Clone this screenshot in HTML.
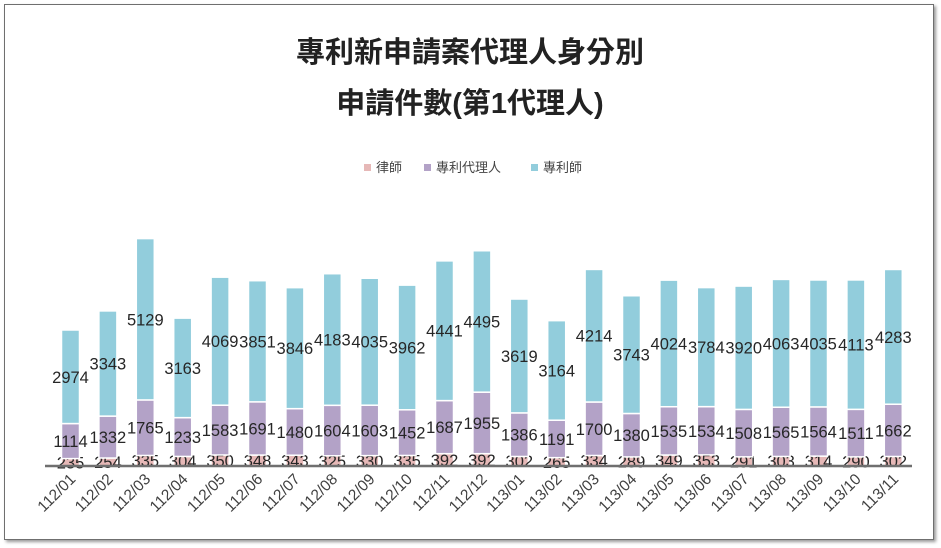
<!DOCTYPE html>
<html><head><meta charset="utf-8">
<style>
body{margin:0;background:#fff;}
#frame{position:absolute;left:4px;top:4px;width:928px;height:534px;border:1px solid #6f6f6f;box-shadow:2px 2px 3px #999;background:#fff;}
svg{position:absolute;left:0;top:0;}
text{font-family:"Liberation Sans","Noto Sans CJK TC",sans-serif;}
</style></head>
<body>
<div id="frame"></div>
<svg id="chart" width="941" height="548">
<text x="470" y="62" text-anchor="middle" font-size="29" font-weight="bold" fill="#222">專利新申請案代理人身分別</text>
<text x="470" y="113" text-anchor="middle" font-size="29" font-weight="bold" fill="#222">申請件數(第1代理人)</text>
<g>
<g><rect x="364" y="164" width="7" height="7" fill="#e6b8b7"/><text x="376" y="172" font-size="13" fill="#444">律師</text></g>
<g><rect x="424" y="164" width="7" height="7" fill="#b3a2c7"/><text x="436" y="172" font-size="13" fill="#444">專利代理人</text></g>
<g><rect x="531" y="164" width="7" height="7" fill="#92cddc"/><text x="543" y="172" font-size="13" fill="#444">專利師</text></g>
</g>
<g id="bars"></g>
<line x1="45" y1="466" x2="912" y2="466" stroke="#6f6f6f" stroke-width="2.5"/>
<g id="xlabels"></g>
</svg>
<script>
const categories=["112/01","112/02","112/03","112/04","112/05","112/06","112/07","112/08","112/09","112/10","112/11","112/12","113/01","113/02","113/03","113/04","113/05","113/06","113/07","113/08","113/09","113/10","113/11"];
const lawyer=[235,254,335,304,350,348,343,325,330,335,392,392,302,265,334,289,349,353,291,303,314,290,302];
const agent=[1114,1332,1765,1233,1583,1691,1480,1604,1603,1452,1687,1955,1386,1191,1700,1380,1535,1534,1508,1565,1564,1511,1662];
const attorney=[2974,3343,5129,3163,4069,3851,3846,4183,4035,3962,4441,4495,3619,3164,4214,3743,4024,3784,3920,4063,4035,4113,4283];
const NS="http://www.w3.org/2000/svg";
const baseY=466, scale=0.03146, x0=70.5, step=37.4, bw=18;
const xPos=i=>x0+i*step;
const yPos=v=>baseY-v*scale;
const series=[{d:lawyer,c:"#e6b8b7",n:"lawyer"},{d:agent,c:"#b3a2c7",n:"agent"},{d:attorney,c:"#92cddc",n:"attorney"}];
const bars=document.getElementById("bars"), xl=document.getElementById("xlabels");
categories.forEach((cat,i)=>{
  let cum=0;
  series.forEach(s=>{
    const v=s.d[i], y1=yPos(cum), y2=yPos(cum+v);
    const r=document.createElementNS(NS,"rect");
    r.setAttribute("x",xPos(i)-bw/2);r.setAttribute("y",y2);r.setAttribute("width",bw);r.setAttribute("height",y1-y2);
    r.setAttribute("fill",s.c);r.setAttribute("stroke","#fff");r.setAttribute("stroke-width","1.5");
    
    
    bars.appendChild(r);
    const t=document.createElementNS(NS,"text");
    t.setAttribute("x",xPos(i));t.setAttribute("y",(y1+y2)/2+6);t.setAttribute("text-anchor","middle");
    t.setAttribute("font-size","16.5");t.setAttribute("fill","#262626");t.textContent=v;
    
    
    bars.appendChild(t);
    cum+=v;
  });
  const l=document.createElementNS(NS,"text");
  const lx=xPos(i)+6, ly=480;
  l.setAttribute("x",lx);l.setAttribute("y",ly);l.setAttribute("text-anchor","end");
  l.setAttribute("font-size","15.5");l.setAttribute("fill","#404040");
  l.setAttribute("transform","rotate(-45 "+lx+" "+ly+")");
  l.textContent=cat;
  
  
  xl.appendChild(l);
});
</script>
</body></html>
